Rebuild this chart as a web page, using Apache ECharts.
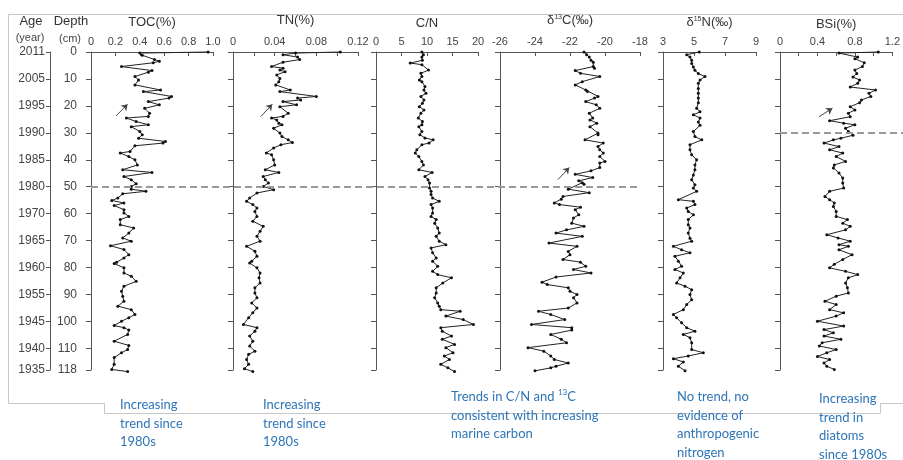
<!DOCTYPE html>
<html><head><meta charset="utf-8">
<script src="https://cdn.jsdelivr.net/npm/echarts@6/dist/echarts.min.js"></script>
<style>html,body{margin:0;padding:0;background:#fff}#c{width:903px;height:460px}</style>
</head><body><div id="c"></div>
<script>
// ---- data: [depth (cm), value] ----
const ageDepths = [0,10,20,30,40,50,60,70,80,90,100,110,118];
const ageLabels = ['2011','2005','1995','1990','1985','1980','1970','1965','1960','1955','1945','1940','1935'];

const tocPoints = [[0,0.96],[0.4,0.40],[1.2,0.42],[2.8,0.52],[3.4,0.56],[4.0,0.51],[5.4,0.25],[6.9,0.50],[7.5,0.47],[9.1,0.36],[10.4,0.39],[12.2,0.36],[14.1,0.57],[14.7,0.43],[16.5,0.66],[17.1,0.64],[18.4,0.47],[19.6,0.56],[20.9,0.44],[22.7,0.48],[23.9,0.47],[24.5,0.29],[25.8,0.37],[27.0,0.47],[27.7,0.33],[29.5,0.40],[30.7,0.42],[32.0,0.39],[33.2,0.61],[33.8,0.59],[34.8,0.36],[36.9,0.32],[37.5,0.24],[38.8,0.31],[40.0,0.36],[41.9,0.38],[43.7,0.26],[44.7,0.50],[46.2,0.27],[47.4,0.33],[48.9,0.37],[49.9,0.33],[50.9,0.33],[51.7,0.45],[52.6,0.26],[54.2,0.22],[55.1,0.17],[56.0,0.27],[57.0,0.19],[58.5,0.27],[59.7,0.27],[61.0,0.31],[62.2,0.24],[64.1,0.24],[65.3,0.35],[67.2,0.31],[69.0,0.26],[70.2,0.33],[71.9,0.16],[73.3,0.27],[75.2,0.31],[76.4,0.27],[78.0,0.21],[78.5,0.19],[80.1,0.27],[82.0,0.27],[83.2,0.33],[85.1,0.37],[86.9,0.27],[88.8,0.25],[90.6,0.26],[92.5,0.27],[94.3,0.22],[95.6,0.33],[97.4,0.36],[98.6,0.31],[99.9,0.25],[101.5,0.19],[102.3,0.27],[103.2,0.31],[104.8,0.30],[107.3,0.19],[108.9,0.31],[110.4,0.30],[111.6,0.25],[113.4,0.19],[115.9,0.19],[117.8,0.17],[118.6,0.30]];

const tnPoints = [[0,0.103],[0.4,0.060],[1.0,0.048],[1.9,0.062],[2.8,0.064],[3.8,0.048],[5.4,0.037],[6.0,0.048],[6.7,0.045],[7.3,0.050],[8.5,0.042],[9.8,0.045],[11.0,0.044],[12.2,0.041],[14.1,0.055],[14.7,0.045],[16.5,0.080],[17.1,0.062],[17.8,0.065],[18.4,0.048],[19.6,0.061],[20.3,0.045],[22.7,0.053],[23.9,0.048],[24.5,0.037],[25.2,0.042],[26.4,0.044],[27.0,0.047],[28.3,0.039],[30.1,0.045],[31.4,0.047],[32.6,0.053],[33.6,0.057],[34.4,0.046],[35.6,0.039],[37.5,0.032],[38.1,0.037],[40.0,0.039],[41.9,0.040],[43.7,0.031],[44.7,0.044],[46.2,0.029],[47.4,0.031],[48.6,0.034],[49.9,0.029],[51.1,0.039],[52.3,0.023],[54.2,0.016],[55.4,0.013],[56.6,0.019],[57.9,0.023],[59.2,0.021],[61.0,0.023],[62.8,0.019],[64.7,0.029],[66.5,0.026],[68.4,0.023],[70.2,0.026],[72.1,0.013],[73.9,0.021],[75.8,0.023],[77.6,0.018],[78.3,0.016],[80.1,0.023],[82.0,0.026],[83.8,0.025],[85.7,0.026],[87.5,0.021],[89.4,0.021],[91.2,0.023],[93.1,0.018],[95.0,0.023],[96.8,0.019],[98.6,0.015],[101.1,0.010],[102.3,0.023],[103.6,0.021],[105.4,0.016],[107.3,0.019],[109.1,0.016],[111.0,0.021],[112.2,0.015],[114.1,0.013],[115.9,0.015],[117.5,0.011],[118.6,0.019]];

const cnPoints = [[0,9.0],[1.0,9.3],[1.9,9.0],[3.1,9.1],[4.1,6.7],[4.7,9.0],[6.7,10.3],[7.9,8.8],[9.1,9.0],[10.4,8.5],[11.0,9.0],[12.8,9.6],[14.1,9.4],[15.3,9.8],[16.5,8.8],[17.8,9.4],[19.0,9.1],[20.3,8.5],[21.5,9.4],[22.7,8.8],[24.5,8.3],[25.8,9.1],[27.0,9.0],[27.7,8.4],[29.5,9.0],[30.7,8.6],[31.9,9.6],[32.6,11.2],[33.8,10.4],[34.4,9.0],[36.3,8.0],[37.5,7.7],[38.8,8.4],[40.6,9.0],[41.9,9.3],[43.7,8.4],[44.7,11.0],[46.2,9.6],[47.4,10.2],[48.6,10.5],[50.5,10.5],[51.7,10.8],[52.9,10.8],[54.2,11.1],[55.4,12.4],[56.6,10.8],[57.9,11.1],[59.7,11.1],[61.0,10.8],[62.2,11.8],[63.5,11.5],[65.3,12.1],[67.2,12.4],[68.4,11.8],[70.2,12.4],[71.5,13.7],[72.7,10.8],[74.5,11.1],[76.4,11.8],[77.6,11.1],[79.5,12.1],[81.4,11.1],[82.6,12.1],[83.8,14.8],[85.7,13.1],[87.5,11.8],[89.4,11.8],[91.2,11.5],[93.1,12.1],[94.3,12.4],[95.6,12.7],[96.2,16.5],[98.0,13.7],[99.3,17.1],[101.1,19.1],[102.3,12.7],[103.6,13.0],[105.4,14.8],[106.6,13.0],[108.5,15.4],[109.7,13.7],[111.6,15.1],[112.8,13.4],[114.1,14.4],[115.9,12.7],[117.2,14.1],[118.6,15.4]];

const d13cPoints = [[0,-21.2],[1.0,-21.05],[1.9,-20.9],[3.1,-20.8],[3.8,-20.67],[5.4,-20.67],[6.0,-20.6],[6.9,-21.7],[7.9,-21.4],[9.1,-20.3],[11.0,-21.3],[12.2,-21.7],[14.1,-21.1],[14.7,-21.0],[16.5,-20.4],[17.1,-20.6],[18.4,-21.1],[19.6,-20.5],[20.9,-20.3],[22.7,-20.9],[24.5,-20.7],[25.2,-20.86],[26.4,-20.47],[27.7,-20.86],[30.1,-20.4],[30.7,-20.4],[32.6,-21.14],[33.8,-20.1],[35.1,-20.4],[36.3,-20.3],[37.5,-20.1],[38.8,-20.3],[40.6,-20.0],[41.2,-20.3],[42.9,-20.3],[44.1,-20.8],[45.4,-21.7],[46.6,-20.7],[47.8,-21.5],[48.5,-21.3],[49.1,-21.2],[50.9,-22.1],[52.2,-20.9],[53.6,-22.4],[54.6,-22.5],[56.0,-22.9],[56.6,-22.6],[57.6,-21.4],[58.5,-21.7],[60.4,-21.5],[61.6,-21.8],[63.5,-21.9],[64.7,-21.2],[66.0,-22.2],[67.2,-22.8],[68.4,-21.3],[70.9,-23.2],[72.1,-21.6],[74.0,-22.1],[75.2,-22.0],[77.0,-22.4],[78.0,-21.4],[79.5,-21.1],[80.7,-21.8],[82.0,-20.8],[83.5,-22.8],[85.4,-23.6],[86.3,-23.3],[87.5,-22.1],[88.8,-22.0],[90.0,-21.6],[91.2,-21.8],[93.1,-21.6],[95.0,-22.1],[96.2,-23.8],[97.4,-23.1],[99.3,-22.3],[101.1,-24.2],[102.3,-21.9],[103.2,-21.9],[104.8,-23.1],[106.6,-22.5],[107.9,-22.2],[109.7,-24.4],[111.0,-23.5],[112.8,-23.1],[114.1,-22.9],[115.4,-22.1],[116.6,-22.8],[117.2,-23.1],[118.3,-24.0]];

const d15nPoints = [[0,5.34],[1.0,4.53],[1.9,4.74],[3.1,4.85],[4.3,4.85],[5.6,4.96],[6.8,5.06],[8.0,5.28],[9.1,5.71],[10.4,5.39],[11.6,5.28],[13.5,5.28],[15.3,5.28],[17.1,5.28],[18.8,5.28],[20.9,5.17],[22.2,5.39],[23.3,4.96],[24.5,5.39],[26.0,5.28],[27.2,5.39],[29.5,4.96],[31.4,5.06],[32.6,5.50],[34.4,4.74],[36.3,4.74],[38.1,4.85],[40.0,5.17],[41.9,5.06],[43.7,5.06],[45.6,4.96],[47.4,4.85],[49.3,5.06],[50.5,4.96],[51.7,5.17],[54.8,3.99],[55.4,4.96],[56.6,5.06],[57.9,4.53],[59.2,4.63],[60.4,4.96],[62.2,4.63],[64.1,4.63],[65.3,4.74],[67.2,4.63],[69.1,4.74],[70.2,4.85],[72.1,3.67],[73.4,4.20],[74.5,4.74],[75.8,3.77],[77.6,3.99],[79.5,4.20],[80.7,3.77],[82.0,4.31],[83.8,4.10],[85.7,3.88],[86.9,4.42],[88.2,4.85],[90.0,4.74],[91.9,4.85],[93.7,4.53],[95.6,4.31],[97.4,3.67],[98.6,3.88],[100.5,4.20],[102.3,4.53],[103.6,5.06],[104.8,4.31],[106.0,4.74],[107.9,4.85],[110.4,4.85],[111.6,5.60],[112.8,4.63],[113.8,3.67],[115.0,4.31],[116.6,3.99],[118.3,4.42]];

const bsiPoints = [[0,1.05],[0.4,0.63],[1.9,0.83],[2.5,0.80],[4.0,0.90],[5.4,0.88],[6.7,0.80],[8.0,0.82],[9.3,0.78],[10.4,0.85],[11.6,0.83],[13.0,0.75],[14.1,1.02],[15.3,0.95],[16.5,0.97],[17.8,0.87],[18.8,0.85],[20.3,0.75],[21.5,0.80],[22.7,0.73],[24.0,0.75],[25.5,0.53],[26.4,0.68],[27.0,0.80],[28.3,0.70],[29.5,0.73],[30.9,0.78],[32.0,0.65],[32.6,0.57],[33.8,0.47],[35.1,0.63],[36.3,0.53],[37.5,0.67],[38.8,0.60],[40.6,0.70],[41.9,0.58],[43.0,0.57],[44.9,0.63],[46.8,0.67],[48.6,0.67],[50.5,0.68],[51.7,0.53],[53.6,0.48],[54.8,0.53],[56.0,0.58],[57.3,0.57],[59.2,0.60],[61.0,0.60],[62.2,0.72],[63.5,0.67],[64.7,0.75],[66.0,0.70],[67.8,0.50],[69.0,0.62],[70.2,0.75],[71.5,0.63],[72.1,0.73],[73.4,0.63],[75.2,0.77],[77.0,0.67],[78.8,0.58],[80.1,0.53],[81.4,0.70],[82.6,0.83],[83.8,0.73],[85.7,0.70],[87.5,0.72],[89.4,0.73],[90.6,0.60],[92.5,0.48],[93.7,0.60],[95.6,0.53],[96.8,0.68],[98.0,0.60],[99.9,0.40],[101.7,0.68],[103.0,0.47],[104.2,0.57],[105.4,0.47],[106.6,0.65],[107.9,0.45],[109.1,0.42],[110.4,0.60],[111.6,0.50],[113.0,0.40],[114.1,0.53],[115.4,0.47],[116.6,0.50],[117.8,0.58]];

// trend arrows [[value, depth] start, [value, depth] end]
const tocArrow = [[0.205, 23.7], [0.30, 19.4]];
const tnArrow = [[0.0266, 24.0], [0.0377, 19.4]];
const d13cArrow = [[-22.70, 47.4], [-22.04, 42.9]];
const bsiArrow = [[0.417, 24.0], [0.56, 20.9]];
const dashDepthMain = 50;
const dashDepthBsi = 30;

// ---- layout ----
const TOP = 52, H = 318;
const AXC = '#555', TXT = '#444', FONT = 'Liberation Sans';
const panels = [
  {pts: tocPoints, left: 91, width: 122, min: 0, max: 1, interval: 0.2, every: 1, dec: 1, name: 'TOC(%)', gap: 23, arrow: tocArrow},
  {pts: tnPoints, left: 233, width: 125, min: 0, max: 0.12, interval: 0.02, every: 2, dec: 2, name: 'TN(%)', gap: 25, arrow: tnArrow},
  {pts: cnPoints, left: 376, width: 102, min: 0, max: 20, interval: 5, every: 1, dec: 0, name: 'C/N', gap: 22},
  {pts: d13cPoints, left: 500, width: 140, min: -26, max: -18, interval: 2, every: 1, dec: 0, name: 'δ{sup|13}C(‰)', gap: 25, arrow: d13cArrow},
  {pts: d15nPoints, left: 663, width: 93, min: 3, max: 9, interval: 2, every: 1, dec: 0, name: 'δ{sup|15}N(‰)', gap: 23},
  {pts: bsiPoints, left: 780, width: 120, min: 0, max: 1.2, interval: 0.2, every: 2, dec: 1, name: 'BSi(%)', gap: 21, arrow: bsiArrow}
];

const grid = [], xAxis = [], yAxis = [], series = [];
panels.forEach((p, i) => {
  grid.push({left: p.left, top: TOP, width: p.width, height: H});
  xAxis.push({
    gridIndex: i, type: 'value', position: 'top', min: p.min, max: p.max, interval: p.interval,
    name: p.name, nameLocation: 'middle', nameGap: p.gap,
    nameTextStyle: {fontFamily: FONT, fontSize: 13, color: '#333', rich: {sup: {fontSize: 7, verticalAlign: 'top', padding: [0, 0, 6, 0], fontFamily: FONT, color: '#333'}}},
    axisLine: {show: true, lineStyle: {color: AXC, width: 1}},
    axisTick: {show: true, inside: true, length: 4, lineStyle: {color: AXC}},
    splitLine: {show: false},
    axisLabel: {
      show: true, margin: 5, fontFamily: FONT, fontSize: 11, color: TXT, showMinLabel: true, showMaxLabel: true,
      formatter: v => {
        const k = Math.round((v - p.min) / p.interval);
        if (k % p.every !== 0) return '';
        return v === 0 ? '0' : v.toFixed(p.dec);
      }
    }
  });
  yAxis.push({
    gridIndex: i, type: 'value', inverse: true, min: 0, max: 118, interval: 10,
    axisLine: {show: true, lineStyle: {color: AXC, width: 1}},
    axisTick: {show: true, inside: false, length: 5, lineStyle: {color: AXC}},
    splitLine: {show: false},
    axisLabel: {show: i === 0, margin: 14, fontFamily: FONT, fontSize: 12, color: TXT, showMinLabel: true, showMaxLabel: true}
  });
  const s = {
    type: 'line', xAxisIndex: i, yAxisIndex: i, clip: false,
    data: p.pts.map(d => [d[1], d[0]]),
    symbol: 'circle', symbolSize: 3, showAllSymbol: true,
    lineStyle: {color: '#222', width: 1},
    itemStyle: {color: '#111'},
    silent: true
  };
  if (p.arrow) {
    s.markLine = {
      silent: true, symbol: ['none', 'arrow'], symbolSize: 6,
      lineStyle: {color: '#444', width: 1, type: 'solid'},
      label: {show: false},
      data: [[{coord: p.arrow[0]}, {coord: p.arrow[1]}]]
    };
  }
  series.push(s);
});

// Age axis (second y axis on TOC grid)
yAxis.push({
  gridIndex: 0, type: 'value', inverse: true, min: 0, max: 118, interval: 10, position: 'left', offset: 41,
  axisLine: {show: true, lineStyle: {color: AXC, width: 1}},
  axisTick: {show: true, inside: false, length: 4, lineStyle: {color: AXC}},
  splitLine: {show: false},
  axisLabel: {show: true, margin: 5, fontFamily: FONT, fontSize: 12, color: TXT, showMinLabel: true, showMaxLabel: true,
    formatter: v => { const k = ageDepths.indexOf(v); return k >= 0 ? ageLabels[k] : ''; }}
});
series.push({type: 'line', xAxisIndex: 0, yAxisIndex: 6, data: [], silent: true});

// Overlay grids for dashed reference lines
function overlay(left, width, depth) {
  const gi = grid.length;
  grid.push({left: left, top: TOP, width: width, height: H});
  xAxis.push({gridIndex: gi, type: 'value', min: 0, max: 1, show: false});
  yAxis.push({gridIndex: gi, type: 'value', inverse: true, min: 0, max: 118, show: false});
  series.push({
    type: 'line', xAxisIndex: gi, yAxisIndex: yAxis.length - 1, data: [], silent: true,
    markLine: {silent: true, symbol: ['none', 'none'], label: {show: false},
      lineStyle: {color: '#999', width: 2, type: [7, 4]}, data: [{yAxis: depth}]}
  });
}
overlay(91, 549, dashDepthMain);
overlay(780, 123, dashDepthBsi);

const blue = '#2E75B6';
const noteStyle = (x, y, text) => ({
  type: 'text', left: x, top: y, silent: true,
  style: {text: text, fontFamily: 'Lato', fontSize: 13, lineHeight: 18.5, fill: blue,
    rich: {sup: {fontSize: 8, fontFamily: 'Lato', fill: blue, verticalAlign: 'top', padding: [0, 0, 8, 0]}}}
});

const graphic = [
  {type: 'polyline', silent: true, shape: {points: [[903, 14.5], [8.5, 14.5], [8.5, 403.5], [104.5, 403.5], [104.5, 413.5], [880.5, 413.5], [880.5, 403.5], [903, 403.5]]},
   style: {stroke: '#c8c8c8', lineWidth: 1, fill: null}},
  {type: 'text', silent: true, x: 31, y: 21, style: {text: 'Age', fontFamily: FONT, fontSize: 13, fill: '#333', align: 'center', verticalAlign: 'middle'}},
  {type: 'text', silent: true, x: 30, y: 38, style: {text: '(year)', fontFamily: FONT, fontSize: 11, fill: '#444', align: 'center', verticalAlign: 'middle'}},
  {type: 'text', silent: true, x: 71, y: 21, style: {text: 'Depth', fontFamily: FONT, fontSize: 13, fill: '#333', align: 'center', verticalAlign: 'middle'}},
  {type: 'text', silent: true, x: 70, y: 39, style: {text: '(cm)', fontFamily: FONT, fontSize: 11, fill: '#444', align: 'center', verticalAlign: 'middle'}},
  noteStyle(120, 396, 'Increasing\ntrend since\n1980s'),
  noteStyle(263, 396, 'Increasing\ntrend since\n1980s'),
  noteStyle(451, 388, 'Trends in C/N and {sup|13}C\nconsistent with increasing\nmarine carbon'),
  noteStyle(677, 388, 'No trend, no\nevidence of\nanthropogenic\nnitrogen'),
  noteStyle(819, 390, 'Increasing\ntrend in\ndiatoms\nsince 1980s')
];

const chart = echarts.init(document.getElementById('c'), null, {renderer: 'canvas'});
chart.setOption({animation: false, backgroundColor: '#fff', grid, xAxis, yAxis, series, graphic});
</script></body></html>
